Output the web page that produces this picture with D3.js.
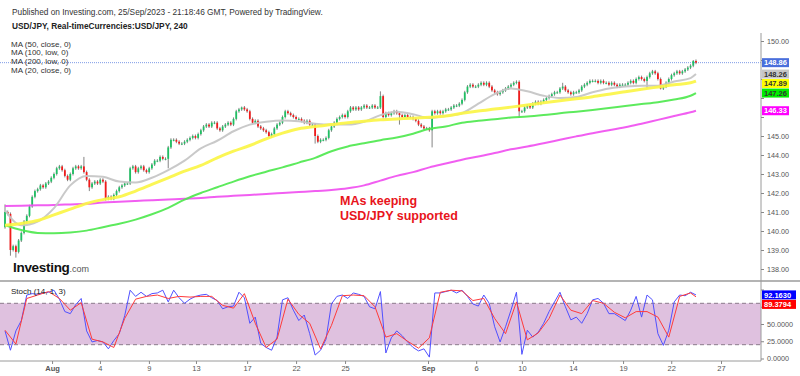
<!DOCTYPE html>
<html>
<head>
<meta charset="utf-8">
<script src="https://cdn.jsdelivr.net/npm/d3@7"></script>
<style>
  body { margin: 0; background: #fff; }
  svg { display: block; font-family: "Liberation Sans", Arial, sans-serif; }
</style>
</head>
<body>
<svg id="chart" width="800" height="376"></svg>
<script>
// ---- data (USD/JPY 4h candles, 27 Jul - 25 Sep 2023) ----
const firstOpen = 140.2;
const closes = [
  141.0, 140.9, 139.0, 139.2, 138.9, 139.5,
  139.9, 140.5, 140.8, 141.3, 141.8, 142.1,
  142.2, 142.4, 142.3, 142.5, 142.6, 142.8,
  143.0, 143.3, 143.4, 143.2, 142.9, 142.7,
  143.0, 143.3, 143.4, 143.3, 143.4, 143.1,
  142.7, 142.3, 142.5, 142.6, 142.5, 142.7,
  142.6, 141.7, 141.8, 141.7, 141.9, 142.1,
  142.3, 142.4, 142.5, 142.5, 143.3, 143.4,
  143.1, 143.3, 143.4, 143.2, 143.1, 143.3,
  143.5, 143.7, 143.7, 143.9, 143.8, 143.8,
  144.4, 144.8, 144.8, 144.7, 144.6, 144.6,
  144.7, 144.8, 144.9, 145.0, 144.9, 145.1,
  145.3, 145.5, 145.6, 145.5, 145.7, 145.7,
  145.4, 145.3, 145.5, 145.6, 145.7, 145.6,
  145.9, 146.3, 146.4, 146.5, 146.4, 146.3,
  145.9, 145.7, 145.8, 145.5, 145.4, 145.3,
  145.2, 145.0, 145.1, 145.4, 145.6, 145.7,
  146.0, 146.3, 146.2, 146.1, 146.0, 145.9,
  145.9, 145.8, 145.7, 145.8, 145.6, 145.6,
  145.0, 144.7, 144.8, 144.8, 144.9, 145.3,
  145.5, 145.7, 145.9, 146.0, 146.1, 146.0,
  146.3, 146.5, 146.4, 146.5, 146.4, 146.5,
  146.6, 146.5, 146.5, 146.6, 146.5, 146.5,
  147.1, 146.0, 146.2, 146.1, 146.2, 146.3,
  146.2, 146.1, 146.0, 146.1, 146.0, 146.0,
  145.9, 145.8, 145.6, 145.5, 145.4, 145.4,
  145.3, 146.3, 146.2, 146.3, 146.2, 146.3,
  146.4, 146.4, 146.5, 146.6, 146.6, 146.7,
  146.9, 147.3, 147.6, 147.7, 147.6, 147.6,
  147.7, 147.8, 147.7, 147.8, 147.6, 147.4,
  147.3, 147.2, 147.3, 147.4, 147.5, 147.6,
  147.7, 147.8, 147.85, 146.3, 146.3, 146.5,
  146.6, 146.5, 146.7, 146.8, 146.7, 146.8,
  146.9, 147.0, 147.1, 147.2, 147.3, 147.3,
  147.5, 147.6, 147.4, 147.3, 147.2, 147.3,
  147.3, 147.4, 147.6, 147.7, 147.8, 147.9,
  147.9, 147.9, 147.8, 147.9, 147.8, 147.8,
  147.7, 147.8, 147.7, 147.6, 147.7, 147.7,
  147.7, 147.8, 147.9, 147.8, 148.0, 148.1,
  148.0, 147.9, 148.1, 148.3, 148.4, 148.3,
  148.0, 147.5, 147.6, 147.8, 148.0, 148.2,
  148.3, 148.4, 148.3, 148.4, 148.5, 148.6,
  148.7, 148.95, 148.86
];
// only the long wicks that stand out in the picture
const wickHigh = { 0: 141.4, 29: 143.9, 87: 146.55, 138: 147.35, 205: 147.8, 253: 149.0 };
const wickLow = { 2: 138.7, 4: 138.6, 31: 142.1, 37: 141.6, 60: 143.3, 97: 144.9, 114: 144.6,
                  145: 145.6, 157: 144.4, 189: 145.95, 236: 147.5, 241: 147.45 };

// moving averages, one reading every 6 candles + the last bar
const maIdx = d3.range(0, 253, 6).concat([254]);
const ma20 = [141.1, 140.3, 140.5, 141.2, 142.4, 142.9, 142.85, 142.6, 142.55, 142.8, 143.2, 143.7, 144.35, 144.75,
  145.25, 145.6, 145.75, 145.82, 145.78, 145.65, 145.6, 145.6, 145.75, 146.1, 146.28, 146.15, 145.95, 146.05, 146.2,
  146.7, 147.2, 147.5, 147.35, 147.12, 147.0, 147.05, 147.3, 147.5, 147.6, 147.65, 147.65, 147.87, 148.05, 148.26];
const ma50 = [140.3, 140.4, 140.55, 140.85, 141.15, 141.45, 141.65, 141.8, 142.1, 142.45, 142.8, 143.15, 143.45, 143.85,
  144.2, 144.5, 144.85, 145.15, 145.38, 145.5, 145.6, 145.7, 145.78, 145.85, 145.9, 145.94, 145.99, 146.05, 146.2,
  146.32, 146.42, 146.52, 146.63, 146.75, 146.86, 146.96, 147.07, 147.2, 147.33, 147.46, 147.58, 147.7, 147.8, 147.89];
const ma100 = [140.3, 140.05, 139.9, 139.88, 139.92, 140.02, 140.2, 140.38, 140.6, 140.88, 141.22, 141.65, 142.0, 142.3,
  142.6, 142.88, 143.12, 143.35, 143.6, 143.85, 144.2, 144.45, 144.62, 144.78, 144.92, 145.12, 145.38, 145.5, 145.7,
  145.8, 145.88, 145.98, 146.02, 146.1, 146.2, 146.28, 146.37, 146.47, 146.58, 146.68, 146.78, 146.92, 147.12, 147.26];
const ma200 = [141.32, 141.33, 141.35, 141.37, 141.4, 141.43, 141.5, 141.54, 141.58, 141.62, 141.66, 141.7, 141.74, 141.8,
  141.85, 141.9, 141.95, 142.0, 142.05, 142.1, 142.16, 142.25, 142.4, 142.65, 142.9, 143.1, 143.35, 143.55, 143.75,
  143.92, 144.1, 144.3, 144.45, 144.62, 144.8, 144.98, 145.15, 145.3, 145.46, 145.65, 145.85, 146.05, 146.25, 146.33];

// stochastic (14, 1, 3): %K every 2 candles, %D every 4 candles
const stochKIdx = d3.range(0, 255, 2);
const stochK = [
  40, 12, 40, 55, 92, 94, 93, 95, 96, 99,
  86, 68, 65, 78, 87, 40, 24, 26, 24, 14,
  26, 36, 62, 99, 90, 96, 90, 94, 95, 99,
  82, 99, 88, 80, 86, 90, 92, 93, 88, 84,
  72, 75, 76, 96, 88, 51, 60, 22, 16, 12,
  31, 85, 88, 70, 55, 63, 36, 5, 12, 28,
  79, 90, 92, 87, 95, 93, 90, 75, 72, 97,
  8, 30, 40,
  33, 24, 16, 11, 14, 2, 95, 95, 97, 99,
  95, 99, 90, 79, 76, 92, 80, 46, 24, 46,
  70, 96, 6, 41, 31, 38, 51, 68, 82, 96,
  75, 56, 60, 51, 65, 85, 87, 80, 65, 65,
  60, 55, 70, 90, 60, 92, 85, 36, 19, 41,
  82, 92, 91, 96, 92.163
];
const stochDIdx = d3.range(0, 253, 4).concat([254]);
const stochD = [
  41, 21, 87, 92, 97, 87, 70, 81, 28, 24,
  16, 58, 86, 90, 92, 87, 90, 89, 90, 90,
  77, 73, 94, 51, 16, 28, 86, 64, 51, 14,
  48, 91, 92, 91, 75, 31, 36,
  25, 15, 30, 96, 99, 98, 84, 87, 58, 36,
  82, 27, 37, 58, 92, 70, 65, 84, 80, 67,
  59, 68, 68, 60, 31, 90, 95, 89.3794
];

const priceTicks = d3.range(138, 150.5, 1);
const stochTicks = [0, 25, 50, 75, 100];
const xTickIdx = [17.3, 34.9, 52.9, 70.2, 89, 107, 125, 155.5, 173.2, 190, 208.8, 227.2, 244.9, 263.2];
const xTickLabels = ["Aug", "4", "9", "13", "17", "22", "25", "Sep", "6", "10", "14", "19", "22", "27"];
const maNames = ["MA (50, close, 0)", "MA (100, low, 0)", "MA (200, low, 0)", "MA (20, close, 0)"];

// ---- layout ----
const W = 800, H = 376, axisX = 761;
const svg = d3.select("#chart");
const x = d3.scaleLinear().domain([-1.84, 277.9]).range([0, axisX]);
const y = d3.scaleLinear().domain([138, 150]).range([269, 41]);
const ys = d3.scaleLinear().domain([0, 100]).range([358.5, 289.5]);

svg.append("rect").attr("width", W).attr("height", H).attr("fill", "#fff");

// header
svg.append("text").attr("x", 12).attr("y", 14.5).attr("font-size", 8.3).attr("fill", "#333")
  .text("Published on Investing.com, 25/Sep/2023 - 21:18:46 GMT, Powered by TradingView.");
svg.append("text").attr("x", 12).attr("y", 29).attr("font-size", 8.3).attr("font-weight", "bold").attr("fill", "#222")
  .text("USD/JPY, Real-timeCurrencies:USD/JPY, 240");

// stochastic band
svg.append("rect").attr("x", 0).attr("width", axisX)
  .attr("y", ys(80)).attr("height", ys(20) - ys(80)).attr("fill", "#dfc1df");
svg.selectAll(".band-line").data([80, 20]).join("line").attr("class", "band-line")
  .attr("x1", 0).attr("x2", axisX).attr("y1", d => ys(d)).attr("y2", d => ys(d))
  .attr("stroke", "#8a7a8a").attr("stroke-dasharray", "4,3");

// last price dotted line
svg.append("line").attr("x1", 0).attr("x2", axisX)
  .attr("y1", y(closes[closes.length - 1])).attr("y2", y(closes[closes.length - 1]))
  .attr("stroke", "#7d9be6").attr("stroke-dasharray", "1,1");

// MA legend
svg.selectAll(".legend").data(maNames).join("text").attr("class", "legend")
  .attr("x", 11).attr("y", (d, i) => 46.5 + i * 8.7)
  .attr("font-size", 8).attr("fill", "#333").text(d => d);

// candles
const candles = closes.map((c, i) => ({ i, o: i ? closes[i - 1] : firstOpen, c }));
const gC = svg.append("g");
gC.selectAll("line").data(candles).join("line")
  .attr("x1", d => x(d.i)).attr("x2", d => x(d.i))
  .attr("y1", d => d.i in wickHigh ? y(wickHigh[d.i]) : y(Math.max(d.o, d.c)) - 1.5)
  .attr("y2", d => d.i in wickLow ? y(wickLow[d.i]) : y(Math.min(d.o, d.c)) + 1.5)
  .attr("stroke", "#666").attr("stroke-width", 0.8);
gC.selectAll("rect").data(candles).join("rect")
  .attr("x", d => x(d.i) - 0.9).attr("width", 1.8)
  .attr("y", d => y(Math.max(d.o, d.c)))
  .attr("height", d => Math.max(1, Math.abs(y(d.o) - y(d.c))))
  .attr("fill", d => d.c >= d.o ? "#1fc063" : "#f21b1b");

// moving averages
const maLine = d3.line().x(d => x(d[0])).y(d => y(d[1])).curve(d3.curveMonotoneX);
const maSeries = [
  { vals: ma200, color: "#f050f0", w: 2 },
  { vals: ma100, color: "#4fe84f", w: 2 },
  { vals: ma20, color: "#c4c4c4", w: 2 },
  { vals: ma50, color: "#fbf546", w: 3 }
];
svg.selectAll(".ma").data(maSeries).join("path").attr("class", "ma")
  .attr("d", s => maLine(maIdx.map((k, j) => [k, s.vals[j]])))
  .attr("fill", "none").attr("stroke", s => s.color).attr("stroke-width", s => s.w)
  .attr("opacity", 0.92);

// stochastic lines
const stLine = d3.line().x(d => x(d[0])).y(d => ys(d[1]));
svg.append("path").attr("d", stLine(stochKIdx.map((k, j) => [k, stochK[j]])))
  .attr("fill", "none").attr("stroke", "#5050ff").attr("stroke-width", 1);
svg.append("path").attr("d", stLine(stochDIdx.map((k, j) => [k, stochD[j]])))
  .attr("fill", "none").attr("stroke", "#ff3b3b").attr("stroke-width", 1);

svg.append("text").attr("x", 11).attr("y", 294).attr("font-size", 8).attr("fill", "#222")
  .text("Stoch (14, 1, 3)");

// panel frame
svg.append("line").attr("x1", 0).attr("x2", W).attr("y1", 281).attr("y2", 281)
  .attr("stroke", "#b4b4b4").attr("stroke-width", 2);
svg.append("line").attr("x1", 0).attr("x2", axisX).attr("y1", 361).attr("y2", 361)
  .attr("stroke", "#9a9a9a");
svg.append("line").attr("x1", axisX).attr("x2", axisX).attr("y1", 33).attr("y2", 361)
  .attr("stroke", "#9a9a9a");

// value tags shown on the right axis
const priceTagVals = [closes[closes.length - 1], ma20[ma20.length - 1], ma50[ma50.length - 1],
  ma100[ma100.length - 1], ma200[ma200.length - 1]];
const stochTagVals = [stochK[stochK.length - 1], stochD[stochD.length - 1]];

function placeTags(vals, scale) {
  const items = vals.map((v, i) => ({ v, i, py: scale(v) })).sort((a, b) => a.py - b.py);
  items.forEach((d, k) => { if (k && d.py < items[k - 1].py + 9.5) d.py = items[k - 1].py + 9.5; });
  return items;
}
const priceTags = placeTags(priceTagVals, y);
const stochTags = placeTags(stochTagVals, ys);

// axis labels hidden behind a tag are left out, as in the picture
const clear = (tags, scale) => v => tags.every(t => Math.abs(scale(v) - t.py) > 7.5);

const yAxis = svg.append("g").attr("transform", `translate(${axisX},0)`)
  .call(d3.axisRight(y).tickValues(priceTicks).tickFormat(d3.format(".2f")).tickSize(3).tickPadding(3));
yAxis.select(".domain").remove();
yAxis.attr("font-size", 7.2).attr("font-family", "Liberation Sans, Arial, sans-serif");
yAxis.selectAll("text").attr("fill", "#555").filter(v => !clear(priceTags, y)(v)).remove();
yAxis.selectAll("line").attr("stroke", "#888");

const sAxis = svg.append("g").attr("transform", `translate(${axisX},0)`)
  .call(d3.axisRight(ys).tickValues(stochTicks).tickFormat(d3.format(".4f")).tickSize(3).tickPadding(3));
sAxis.select(".domain").remove();
sAxis.attr("font-size", 7.2).attr("font-family", "Liberation Sans, Arial, sans-serif");
sAxis.selectAll("text").attr("fill", "#555").filter(v => !clear(stochTags, ys)(v)).remove();
sAxis.selectAll("line").attr("stroke", "#888");

// time axis
const xAxis = svg.append("g").attr("transform", "translate(0,361)")
  .call(d3.axisBottom(x).tickValues(xTickIdx).tickFormat((d, i) => xTickLabels[i]).tickSize(3).tickPadding(2));
xAxis.select(".domain").remove();
xAxis.attr("font-size", 7.5).attr("font-family", "Liberation Sans, Arial, sans-serif");
xAxis.selectAll("text").attr("fill", "#555")
  .attr("font-weight", (d, i) => isNaN(+xTickLabels[i]) ? "bold" : null);
xAxis.selectAll("line").attr("stroke", "#888");

function drawTags(items, fmt, bgs, fgs, w) {
  const g = svg.append("g");
  g.selectAll("rect").data(items).join("rect")
    .attr("x", axisX + 1).attr("y", d => d.py - 4.5).attr("width", w).attr("height", 9)
    .attr("fill", d => bgs[d.i]);
  g.selectAll("text").data(items).join("text")
    .attr("x", axisX + 3).attr("y", d => d.py + 2.7).attr("font-size", 7.5).attr("font-weight", "bold")
    .attr("fill", d => fgs[d.i]).text(d => fmt(d.v));
}
drawTags(priceTags, d3.format(".2f"),
  ["#4a6fdc", "#c6c6c6", "#ffff00", "#00ee00", "#ff00ff"],
  ["#fff", "#333", "#333", "#333", "#fff"], 27);
drawTags(stochTags, d3.format(".4f"), ["#0000ff", "#ff0000"], ["#fff", "#fff"], 34);

// annotation
svg.selectAll(".note").data(["MAs keeping", "USD/JPY supported"]).join("text").attr("class", "note")
  .attr("x", 340).attr("y", (d, i) => 205 + i * 15)
  .attr("font-size", 12.5).attr("font-weight", "bold").attr("fill", "#e8141b").text(d => d);

// Investing.com mark
const logo = svg.append("text").attr("x", 13).attr("y", 272);
logo.append("tspan").attr("font-size", 13.5).attr("font-weight", "bold").attr("fill", "#111")
  .attr("letter-spacing", -0.3).text("Investing");
logo.append("tspan").attr("font-size", 9).attr("fill", "#555").text(".com");
</script>
</body>
</html>
